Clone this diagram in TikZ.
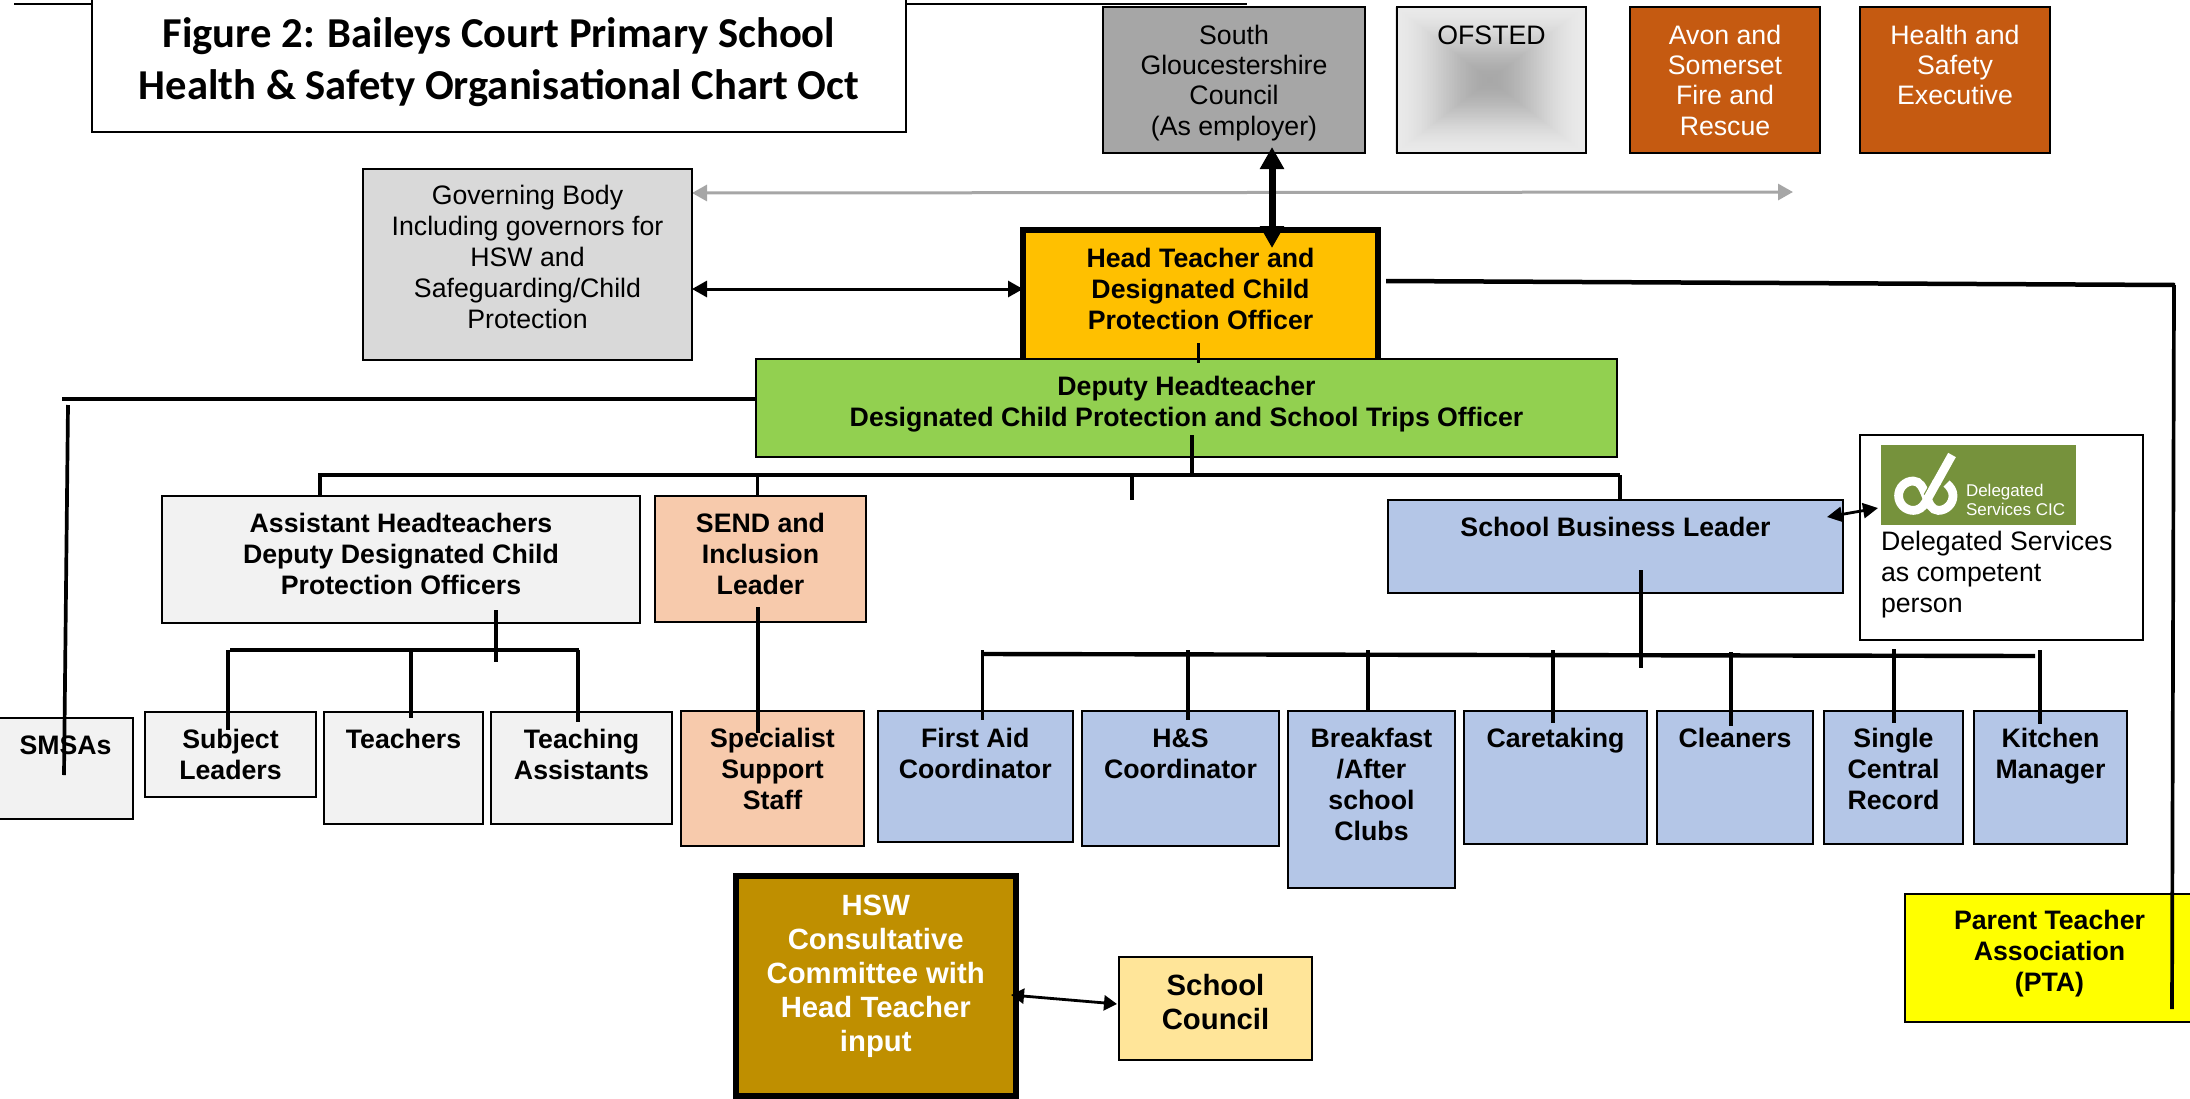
\documentclass[tikz,border=0pt]{standalone}
\usepackage{fontspec}
\setmainfont{Liberation Sans}
\newfontfamily\titlefont{Carlito}
\usetikzlibrary{arrows.meta}
\definecolor{cGov}{HTML}{D9D9D9}
\definecolor{cSGC}{HTML}{A6A6A6}
\definecolor{cFire}{HTML}{C55A11}
\definecolor{cHead}{HTML}{FFC000}
\definecolor{cDep}{HTML}{92D050}
\definecolor{cPale}{HTML}{F2F2F2}
\definecolor{cSend}{HTML}{F7CAAC}
\definecolor{cBlue}{HTML}{B4C6E7}
\definecolor{cHSW}{HTML}{BF8F00}
\definecolor{cCouncil}{HTML}{FFE599}
\definecolor{cLogo}{HTML}{76923C}
\definecolor{cPTA}{HTML}{FFFF00}
\definecolor{cOfDark}{HTML}{A8A8A8}
\definecolor{cOfLight}{HTML}{E9E9E9}
\newcommand{\regf}{\fontsize{26.7}{31}\selectfont}
\newcommand{\topf}{\fontsize{26.7}{30.4}\selectfont}
\newcommand{\bldf}{\fontsize{26.7}{31}\selectfont\bfseries}
\newcommand{\bigf}{\fontsize{29.3}{34.2}\selectfont\bfseries}
\newcommand{\lnk}[6]{\coordinate (#2a) at (#3,#4); \coordinate (#2b) at (#5,#6); \draw[#1] (#2a) -- (#2b);}
\newcommand{\mkbox}[8]{\pgfmathsetmacro{\bxw}{#4-#2}\pgfmathsetmacro{\bxh}{#5-#3}%
  \node[frame,#6,anchor=north west,inner sep=0pt,outer sep=0pt,font=#7] (#1) at (#2,#3)
    {\parbox[t][\bxh pt][t]{\bxw pt}{#8}};}
\newcommand{\tb}[2]{\centering\rule{0pt}{#1pt}#2}
\tikzset{
  x=1pt,y=-1pt,
  frame/.style={draw=black,line width=2pt},
  line1/.style={line width=3.7pt,black},
  line2/.style={line width=4.4pt,black},
  twoway/.style={line width=3pt,black,{Triangle[length=15pt,width=16pt]}-{Triangle[length=15pt,width=16pt]}},
  greyway/.style={line width=3pt,cSGC,{Triangle[length=15pt,width=16pt]}-{Triangle[length=15pt,width=16pt]}},
  thickway/.style={line width=7pt,black,{Triangle[length=22pt,width=23pt]}-{Triangle[length=22pt,width=23pt]}},
}
\begin{document}
\begin{tikzpicture}
\useasboundingbox (0,0) rectangle (2190,1098);
% grey arrow behind
\coordinate (greyL) at (692,193);
\coordinate (greyR) at (1793,192);
\draw[greyway] (greyL) -- (greyR);
% OFSTED gradient
\foreach \i in {0,...,60}{
  \pgfmathsetmacro{\gt}{\i/60}
  \pgfmathsetmacro{\gp}{100*\gt*\gt*(3-2*\gt)}
  \pgfmathsetmacro{\hw}{94.5*(1-\gt)+0.2}
  \pgfmathsetmacro{\hh}{73*(1-\gt)+0.2}
  \fill[cOfDark!\gp!cOfLight] (1490-\hw,80-\hh) rectangle (1490+\hw,80+\hh);
}
% title
\mkbox{title}{92}{-10}{906}{132}{fill=white}{\titlefont\fontsize{42.6}{52.8}\selectfont\bfseries}{\tb{57}{Figure 2: Baileys Court Primary School\\Health \& Safety Organisational Chart Oct}}
% top row
\mkbox{sgc}{1103}{7}{1365}{153}{fill=cSGC}{\topf}{\tb{37}{South\\Gloucestershire\\Council\\(As employer)}}
\mkbox{ofsted}{1397}{7}{1586}{153}{}{\topf}{\tb{37}{OFSTED}}
\mkbox{fire}{1630}{7}{1820}{153}{fill=cFire,text=white}{\topf}{\tb{37}{Avon and\\Somerset\\Fire and\\Rescue}}
\mkbox{hse}{1860}{7}{2050}{153}{fill=cFire,text=white}{\topf}{\tb{37}{Health and\\Safety\\Executive}}
\mkbox{gov}{363}{169}{692}{360}{fill=cGov}{\regf}{\tb{35.5}{Governing Body\\Including governors for\\HSW and\\Safeguarding/Child\\Protection}}
\mkbox{head}{1023}{229.5}{1378}{362}{fill=cHead,line width=6pt}{\bldf}{\tb{37.5}{Head Teacher and\\Designated Child\\Protection Officer}}
\mkbox{dep}{756}{359}{1617}{457}{fill=cDep}{\bldf}{\tb{36}{Deputy Headteacher\\Designated Child Protection and School Trips Officer}}
% second row
\mkbox{ast}{162}{496}{640}{623}{fill=cPale}{\bldf}{\tb{36}{Assistant Headteachers\\Deputy Designated Child\\Protection Officers}}
\mkbox{send}{655}{496}{866}{622}{fill=cSend}{\bldf}{\tb{36}{SEND and\\Inclusion\\Leader}}
\mkbox{sbl}{1388}{500}{1843}{593}{fill=cBlue}{\bldf}{\tb{36}{School Business Leader}}
\mkbox{del}{1860}{435}{2143}{640}{fill=white}{\regf}{\raggedright\leftskip=21pt\relax\rule{0pt}{115pt}Delegated Services\\as competent\\person}
\mkbox{logo}{1881}{445}{2076}{525}{fill=cLogo,draw=none}{\fontsize{17}{19}\selectfont\color{white}}{\raggedright\leftskip=85pt\relax\rule{0pt}{51pt}Delegated\\Services CIC}
% logo emblem
\draw[white,line width=8.8pt,line cap=butt] (1952,455) -- (1925.5,502.5) .. controls (1922.5,507.5) and (1918.5,510.4) .. (1913.3,510.4) .. controls (1905.2,510.4) and (1898.6,503.8) .. (1898.6,495.7) .. controls (1898.6,487.6) and (1905.2,481) .. (1913.3,481) .. controls (1927,481) and (1925,510.4) .. (1938.3,510.4) .. controls (1946.4,510.4) and (1953,503.8) .. (1953,495.7) .. controls (1953,491) and (1950.5,487) .. (1946.5,483.5);
\draw[cLogo,line width=11pt,line cap=butt] (1936,483.5) -- (1928.5,497);
\draw[white,line width=8.8pt,line cap=butt] (1937,481.7) -- (1927.5,498.8);
% third row
\mkbox{smsa}{-2}{718}{133}{819}{fill=cPale}{\bldf}{\tb{36}{SMSAs}}
\mkbox{subj}{145}{712}{316}{797}{fill=cPale}{\bldf}{\tb{36}{Subject\\Leaders}}
\mkbox{teach}{324}{712}{483}{824}{fill=cPale}{\bldf}{\tb{36}{Teachers}}
\mkbox{ta}{491}{712}{672}{824}{fill=cPale}{\bldf}{\tb{36}{Teaching\\Assistants}}
\mkbox{spec}{681}{711}{864}{846}{fill=cSend}{\bldf}{\tb{36}{Specialist\\Support\\Staff}}
\mkbox{fa}{878}{711}{1072.5}{842}{fill=cBlue}{\bldf}{\tb{36}{First Aid\\Coordinator}}
\mkbox{hs}{1082}{711}{1279}{846}{fill=cBlue}{\bldf}{\tb{36}{H\&S\\Coordinator}}
\mkbox{bf}{1288}{711}{1455}{888}{fill=cBlue}{\bldf}{\tb{36}{Breakfast\\/After\\school\\Clubs}}
\mkbox{care}{1464}{711}{1647}{844}{fill=cBlue}{\bldf}{\tb{36}{Caretaking}}
\mkbox{clean}{1657}{711}{1813}{844}{fill=cBlue}{\bldf}{\tb{36}{Cleaners}}
\mkbox{scr}{1824}{711}{1963}{844}{fill=cBlue}{\bldf}{\tb{36}{Single\\Central\\Record}}
\mkbox{kit}{1974}{711}{2127}{844}{fill=cBlue}{\bldf}{\tb{36}{Kitchen\\Manager}}
% bottom
\mkbox{pta}{1905}{894}{2194}{1022}{fill=cPTA}{\bldf}{\tb{35}{Parent Teacher\\Association\\(PTA)}}
\mkbox{hsw}{735.5}{875.5}{1016}{1096}{fill=cHSW,text=white,line width=6pt}{\bigf}{\tb{39.5}{HSW\\Consultative\\Committee with\\Head Teacher\\input}}
\mkbox{council}{1119}{957}{1312}{1060}{fill=cCouncil}{\bigf}{\tb{38}{School\\Council}}
% connectors
\lnk{line width=2.2pt,black}{topL}{14}{4}{92}{4}
\lnk{line width=2.2pt,black}{topR}{906}{4}{1247}{4}
\coordinate (gh) at (0,289);
\draw[twoway] (gov.east |- gh) -- (head.west |- gh);
\lnk{thickway}{sh}{1272}{147}{1272}{248}
\lnk{line width=3.5pt,black}{hd}{1198.5}{343}{1198.5}{363}
\lnk{line2}{leftH}{756}{399}{62}{399}
\lnk{line1}{leftV}{68}{405}{64}{775}
\lnk{line width=4.5pt,black}{rightH}{1386}{281}{2175}{285}
\lnk{line1}{rightV}{2174}{285}{2172}{1009}
% deputy bus
\lnk{line1}{db}{1192}{435}{1192}{475}
\lnk{line2}{bus}{318}{475}{1620}{475}
\lnk{line1}{d1}{320}{475}{320}{496}
\lnk{line1}{d2}{757.5}{475}{757.5}{496}
\lnk{line1}{d3}{1132}{475}{1132}{500}
\lnk{line1}{d4}{1620}{475}{1620}{500}
% assistant group
\lnk{line1}{ab}{496}{610}{496}{662}
\lnk{line2}{abus}{230}{650}{579}{650}
\lnk{line1}{a1}{228}{650}{228}{730}
\lnk{line1}{a2}{411}{650}{411}{718}
\lnk{line1}{a3}{578}{650}{578}{722}
\lnk{line1}{sp}{758}{607}{758}{733}
% business group
\lnk{line1}{bb}{1641}{570}{1641}{668}
\lnk{line2}{bbus}{982}{654}{2035}{656}
\lnk{line1}{b1}{982.5}{650}{982.5}{720}
\lnk{line1}{b2}{1188}{650}{1188}{720}
\lnk{line1}{b3}{1368}{650}{1368}{711}
\lnk{line1}{b4}{1553}{650}{1553}{723}
\lnk{line1}{b5}{1731}{652}{1731}{726}
\lnk{line1}{b6}{1894}{649}{1894}{723}
\lnk{line1}{b7}{2040}{650}{2040}{724}
% small arrows
\lnk{line width=2.8pt,black,{Triangle[length=15pt,width=15pt]}-{Triangle[length=15pt,width=15pt]}}{sd}{1827}{517}{1878}{508}
\lnk{line width=2.8pt,black,{Triangle[length=13pt,width=15pt]}-{Triangle[length=13pt,width=15pt]}}{hc}{1011}{995}{1117}{1004}
\end{tikzpicture}
\end{document}
